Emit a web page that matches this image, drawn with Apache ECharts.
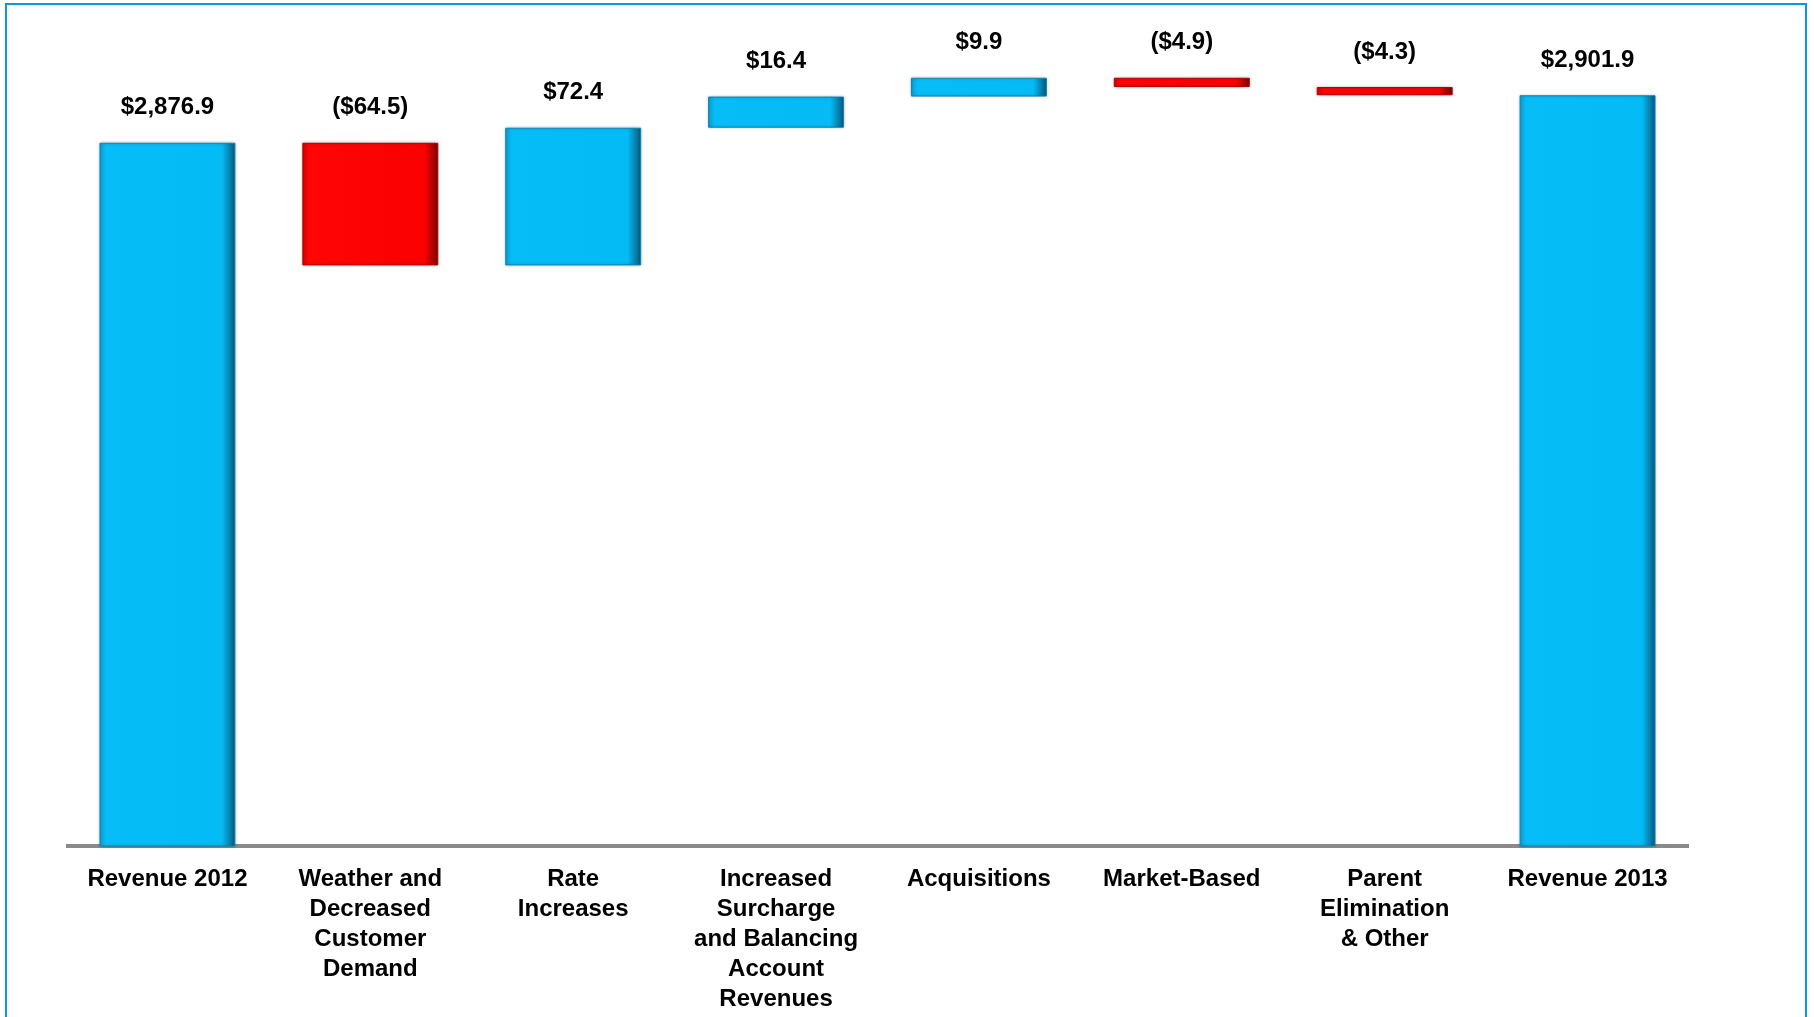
<!DOCTYPE html>
<html>
<head>
<meta charset="utf-8">
<script src="https://cdn.jsdelivr.net/npm/echarts@6/dist/echarts.min.js"></script>
<style>
  html, body { margin: 0; padding: 0; background: #ffffff; }
  #chart { width: 1814px; height: 1017px; }
</style>
</head>
<body>
<div id="chart"></div>
<script>
// ---- data ----
const categories = [
  'Revenue 2012',
  'Weather and\nDecreased\nCustomer\nDemand',
  'Rate\nIncreases',
  'Increased\nSurcharge\nand Balancing\nAccount\nRevenues',
  'Acquisitions',
  'Market-Based',
  'Parent\nElimination\n& Other',
  'Revenue 2013'
];
const values = [2876.9, -64.5, 72.4, 16.4, 9.9, -4.9, -4.3, 2901.9];
const isTotal = [true, false, false, false, false, false, false, true];

// ---- waterfall build ----
const baseData = [];
const barData = [];
let running = 0;
values.forEach((v, i) => {
  if (isTotal[i]) {
    baseData.push(0);
    barData.push({ value: v, raw: v });
    running = v;
  } else if (v >= 0) {
    baseData.push(running);
    barData.push({ value: v, raw: v });
    running += v;
  } else {
    baseData.push(running + v);
    barData.push({ value: -v, raw: v });
    running += v;
  }
});

const blueStyle = {
  color: new echarts.graphic.LinearGradient(0, 0, 1, 0, [
    { offset: 0, color: '#0a9fd2' },
    { offset: 0.05, color: '#07bdf7' },
    { offset: 0.9, color: '#05bbf5' },
    { offset: 1, color: '#06597c' }
  ]),
  borderColor: '#0b86b5',
  borderWidth: 1,
  shadowColor: 'rgba(0,0,0,0.25)',
  shadowBlur: 3
};
const redStyle = {
  color: new echarts.graphic.LinearGradient(0, 0, 1, 0, [
    { offset: 0, color: '#d80000' },
    { offset: 0.05, color: '#ff0505' },
    { offset: 0.9, color: '#fb0000' },
    { offset: 1, color: '#7a0000' }
  ]),
  borderColor: '#b30000',
  borderWidth: 1,
  shadowColor: 'rgba(0,0,0,0.25)',
  shadowBlur: 3
};

function fmt(v) {
  const s = Math.abs(v).toLocaleString('en-US', { minimumFractionDigits: 1, maximumFractionDigits: 1 });
  return v < 0 ? '($' + s + ')' : '$' + s;
}

const FONT = '"Liberation Sans", Arial, sans-serif';

const chart = echarts.init(document.getElementById('chart'), null, { renderer: 'canvas' });
chart.setOption({
  animation: false,
  backgroundColor: '#ffffff',
  graphic: [{
    type: 'rect',
    shape: { x: 6, y: 4, width: 1800, height: 1100 },
    style: { fill: 'none', stroke: '#0b9ad6', lineWidth: 2 },
    silent: true
  }],
  grid: { left: 66, right: 125, top: 0, bottom: 171 },
  xAxis: {
    type: 'category',
    data: categories,
    axisTick: { show: false },
    axisLine: { lineStyle: { color: '#8a8a8a', width: 4, cap: 'butt' } },
    axisLabel: {
      interval: 0,
      color: '#000000',
      fontFamily: FONT,
      fontWeight: 'bold',
      fontSize: 24,
      lineHeight: 30,
      margin: 18
    }
  },
  yAxis: {
    type: 'value',
    min: 2507,
    max: 2952,
    show: false,
    splitLine: { show: false }
  },
  series: [
    {
      type: 'bar',
      stack: 'wf',
      data: baseData,
      barWidth: '67%',
      itemStyle: { color: 'transparent' },
      emphasis: { disabled: true },
      silent: true
    },
    {
      type: 'bar',
      stack: 'wf',
      barWidth: '67%',
      data: barData.map(d => ({
        value: d.value,
        itemStyle: d.raw < 0 ? redStyle : blueStyle,
        label: {
          show: true,
          position: 'top',
          distance: 23,
          formatter: fmt(d.raw),
          color: '#000000',
          fontFamily: FONT,
          fontWeight: 'bold',
          fontSize: 24
        }
      }))
    }
  ]
});
</script>
</body>
</html>
